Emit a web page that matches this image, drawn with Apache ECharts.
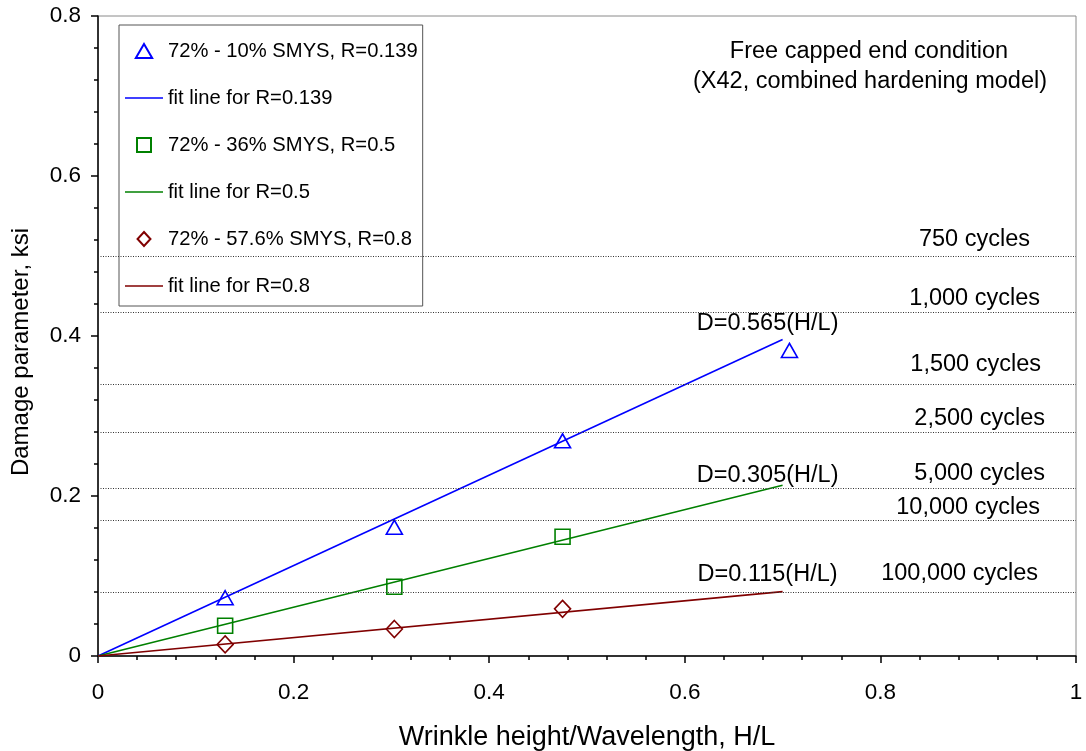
<!DOCTYPE html>
<html>
<head>
<meta charset="utf-8">
<script src="https://cdn.jsdelivr.net/npm/echarts@6/dist/echarts.min.js"></script>
<style>
  html, body { margin: 0; padding: 0; background: #fff; }
  #chart { width: 1086px; height: 751px; }
</style>
</head>
<body>
<div id="chart"></div>
<script>
// Wrinkle height / wavelength ratios and computed damage parameter (ksi)
const ratioR0139 = [0.13, 0.303, 0.475, 0.707];
const damageR0139 = [0.0728, 0.161, 0.269, 0.382];
const ratioR05 = [0.13, 0.303, 0.475];
const damageR05 = [0.0378, 0.0866, 0.149];
const ratioR08 = [0.13, 0.303, 0.475];
const damageR08 = [0.0145, 0.0337, 0.059];

// Linear fits D = k (H/L), drawn over the H/L range below
const fitSlopes = [0.565, 0.305, 0.115];
const fitRange = [0, 0.7];

// Damage levels corresponding to fatigue lives
const cycleLabels = ['750 cycles', '1,000 cycles', '1,500 cycles', '2,500 cycles',
                     '5,000 cycles', '10,000 cycles', '100,000 cycles'];
const cycleDamage = [0.4975, 0.426, 0.3366, 0.2783, 0.2129, 0.169, 0.0804];

const seriesNames = ['72% - 10% SMYS, R=0.139', '72% - 36% SMYS, R=0.5', '72% - 57.6% SMYS, R=0.8'];
const fitNames = ['fit line for R=0.139', 'fit line for R=0.5', 'fit line for R=0.8'];

// ---- presentation ----
const FONT = '"Liberation Sans", Arial, Helvetica, sans-serif';
const colors = ['#0000ff', '#008000', '#800000'];
const symbols = ['triangle', 'rect', 'diamond'];
const symbolSizes = [[16, 14], [15, 15], [16, 17]];
// legend glyphs (kept at their own aspect ratio inside the legend icon box)
const legendMarkerIcons = [
  'path://M7,0L14,12L0,12Z',
  'path://M0,0H13V13H0Z',
  'path://M6,0L12,6.5L6,13L0,6.5Z'
];
const legendLineIcon = 'path://M0,0H38V1.6H0Z';
// [right inset, lift] of each cycle label from the end of its line
const cycleLabelShift = [[46, 4], [36, 1], [35, 7], [31, 1], [31, 2], [36, 0], [38, 6]];
// offset of each equation label centre from the fit line end point
const eqLabelShift = [[-15, -16], [-15, -10], [-15, -17]];

const ratios = [ratioR0139, ratioR05, ratioR08];
const damages = [damageR0139, damageR05, damageR08];

const chart = echarts.init(document.getElementById('chart'), null, { renderer: 'canvas' });

const series = [];
// dotted fatigue-life levels
series.push({
  type: 'line',
  name: 'levels',
  data: [],
  silent: true,
  z: 1,
  markLine: {
    silent: true,
    animation: false,
    symbol: ['none', 'none'],
    lineStyle: { type: [1, 1.5], color: '#333', width: 1 },
    data: cycleDamage.map((v, i) => ({
      yAxis: v,
      label: {
        show: true,
        formatter: cycleLabels[i],
        position: 'insideEndTop',
        distance: cycleLabelShift[i],
        color: '#000',
        fontSize: 23.5,
        fontFamily: FONT
      }
    }))
  }
});

const legendData = [];
for (let s = 0; s < 3; s++) {
  series.push({
    type: 'scatter',
    name: seriesNames[s],
    symbol: symbols[s],
    symbolSize: symbolSizes[s],
    z: 4,
    itemStyle: { color: 'rgba(0,0,0,0)', borderColor: colors[s], borderWidth: 1.6, opacity: 1 },
    emphasis: { disabled: true },
    data: ratios[s].map((x, i) => [x, damages[s][i]])
  });
  series.push({
    type: 'line',
    name: fitNames[s],
    symbol: 'none',
    z: 3,
    lineStyle: { color: colors[s], width: 1.6 },
    itemStyle: { color: colors[s] },
    emphasis: { disabled: true },
    data: fitRange.map(x => [x, fitSlopes[s] * x])
  });
  legendData.push({ name: seriesNames[s], icon: legendMarkerIcons[s] });
  legendData.push({ name: fitNames[s], icon: legendLineIcon, itemStyle: { color: colors[s], borderWidth: 0 } });
}

chart.setOption({
  animation: false,
  backgroundColor: '#fff',
  grid: {
    left: 98, right: 10, top: 16, bottom: 95,
    outerBoundsMode: 'none', containLabel: false,
    show: true, borderColor: '#8a8a8a', borderWidth: 1, backgroundColor: 'transparent'
  },
  legend: {
    data: legendData,
    orient: 'vertical',
    left: 119,
    top: 25,
    padding: [16, 5, 10, 6],
    itemWidth: 38,
    itemHeight: 14,
    itemGap: 27,
    symbolKeepAspect: true,
    borderColor: '#555',
    borderWidth: 1,
    selectedMode: false,
    textStyle: { color: '#000', fontSize: 20.2, fontFamily: FONT }
  },
  xAxis: {
    type: 'value',
    min: 0, max: 1, interval: 0.2,
    name: 'Wrinkle height/Wavelength, H/L',
    nameLocation: 'middle',
    nameGap: 68,
    nameTextStyle: { color: '#000', fontSize: 27, fontFamily: FONT },
    axisLine: { lineStyle: { color: '#000', width: 1.5 } },
    axisTick: { show: true, length: 7, lineStyle: { color: '#000', width: 1.5 } },
    minorTick: { show: true, splitNumber: 5, length: 4, lineStyle: { color: '#000', width: 1.5 } },
    splitLine: { show: false },
    axisLabel: { color: '#000', fontSize: 22.5, fontFamily: FONT, margin: 25 }
  },
  yAxis: {
    type: 'value',
    min: 0, max: 0.8, interval: 0.2,
    axisLine: { show: true, lineStyle: { color: '#000', width: 1.5 } },
    axisTick: { show: true, length: 7, lineStyle: { color: '#000', width: 1.5 } },
    minorTick: { show: true, splitNumber: 5, length: 4, lineStyle: { color: '#000', width: 1.5 } },
    splitLine: { show: false },
    axisLabel: { color: '#000', fontSize: 22.5, fontFamily: FONT, margin: 17 }
  },
  series: series
});

// equation labels near the end of each fit line, plus free text
const graphics = [];
fitSlopes.forEach((k, s) => {
  const end = chart.convertToPixel({ gridIndex: 0 }, [fitRange[1], k * fitRange[1]]);
  graphics.push({
    type: 'text',
    x: end[0] + eqLabelShift[s][0],
    y: end[1] + eqLabelShift[s][1],
    silent: true,
    style: {
      text: 'D=' + k.toFixed(3) + '(H/L)',
      fill: '#000', fontSize: 23.5, fontFamily: FONT,
      align: 'center', verticalAlign: 'middle'
    }
  });
});
graphics.push({
  type: 'text', x: 869, y: 52, silent: true,
  style: { text: 'Free capped end condition', fill: '#000', fontSize: 23.5, fontFamily: FONT, align: 'center', verticalAlign: 'middle' }
});
graphics.push({
  type: 'text', x: 870, y: 82, silent: true,
  style: { text: '(X42, combined hardening model)', fill: '#000', fontSize: 23.5, fontFamily: FONT, align: 'center', verticalAlign: 'middle' }
});
graphics.push({
  type: 'text', x: 21, y: 352, rotation: Math.PI / 2, silent: true,
  style: { text: 'Damage parameter, ksi', fill: '#000', fontSize: 24, fontFamily: FONT, align: 'center', verticalAlign: 'middle' }
});
chart.setOption({ graphic: graphics });
</script>
</body>
</html>
